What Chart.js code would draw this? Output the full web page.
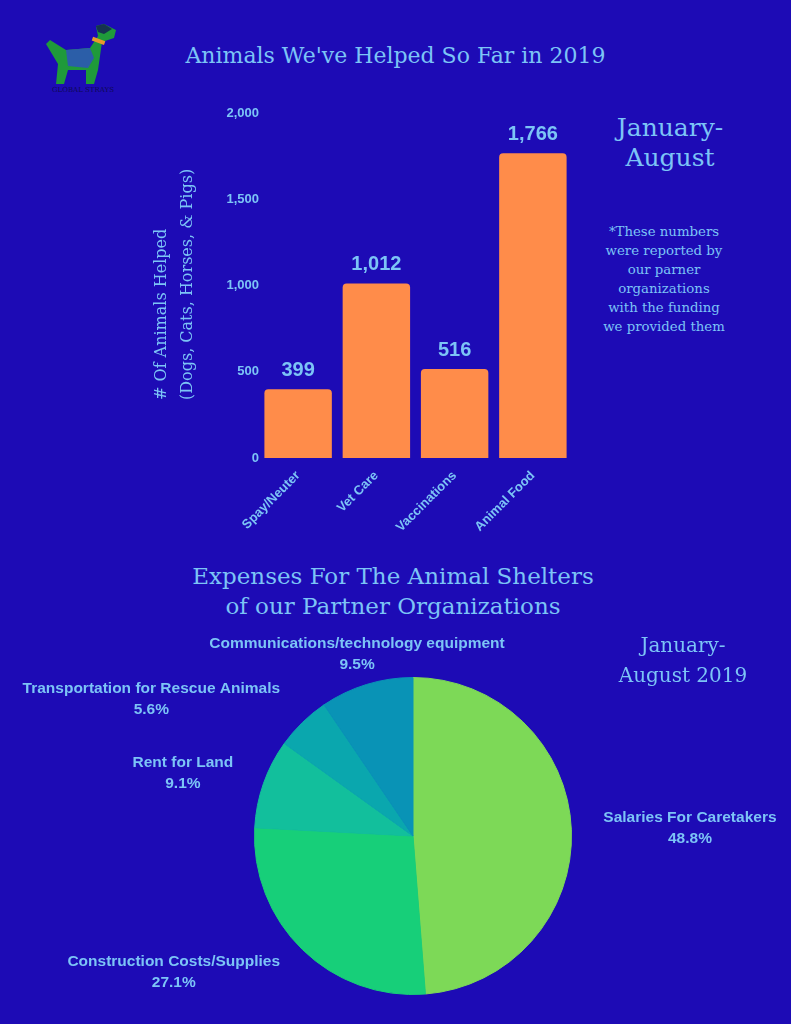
<!DOCTYPE html>
<html>
<head>
<meta charset="utf-8">
<script src="https://cdn.jsdelivr.net/npm/chart.js@4.4.1/dist/chart.umd.min.js"></script>
<style>
  html, body { margin: 0; padding: 0; }
  body {
    width: 791px; height: 1024px; position: relative; overflow: hidden;
    background: #1d0bb5; color: #7cc4f6;
    font-family: "DejaVu Serif", serif;
  }
  .txt { position: absolute; text-align: center; white-space: nowrap; }
  #title { left: 0; width: 791px; top: 43px; font-size: 22px; }
  #period1 { left: 590px; width: 160px; top: 113px; font-size: 25px; line-height: 30px; }
  #note { left: 584px; width: 160px; top: 222px; font-size: 13.3px; line-height: 19px; }
  #title2 { left: 93px; width: 600px; top: 561px; font-size: 23px; line-height: 30px; }
  #period2 { left: 603px; width: 160px; top: 630px; font-size: 20px; line-height: 30px; z-index: 2; }
  #barWrap { position: absolute; left: 130px; top: 95px; width: 460px; height: 450px; }
  #pieWrap { position: absolute; left: 0; top: 626px; width: 791px; height: 398px; }
  #logo { position: absolute; left: 38px; top: 20px; }
</style>
</head>
<body>
<svg id="logo" width="90" height="78" viewBox="0 0 90 78">
  <polygon points="12,20 28,30 52,28 60,16 58,6 66,4 78,10 76,18 64,22 60,50 56,64 48,64 48,50 30,50 26,64 18,64 20,44 14,34 8,24" fill="#1f9a3a"/>
  <polygon points="28,30 52,28 56,38 50,48 30,46" fill="#2b5ea8"/>
  <polygon points="58,6 66,4 74,9 66,14 60,12" fill="#16324f"/>
  <rect x="54" y="19" width="13" height="4" fill="#e89a2a" transform="rotate(20 61 21)"/>
  <text x="45" y="72" font-family="DejaVu Serif" font-size="7" fill="#0f0a55" text-anchor="middle">GLOBAL STRAYS</text>
</svg>
<div id="title" class="txt">Animals We've Helped So Far in 2019</div>
<div id="period1" class="txt">January-<br>August</div>
<div id="note" class="txt">*These numbers<br>were reported by<br>our parner<br>organizations<br>with the funding<br>we provided them</div>
<div id="barWrap"><canvas id="bar_chart"></canvas></div>
<div id="title2" class="txt">Expenses For The Animal Shelters<br>of our Partner Organizations</div>
<div id="period2" class="txt">January-<br>August 2019</div>
<div id="pieWrap"><canvas id="pie_chart"></canvas></div>

<script>
'use strict';

// bar chart data
const helpCategories = ['Spay/Neuter', 'Vet Care', 'Vaccinations', 'Animal Food'];
const animalsHelped = [399, 1012, 516, 1766];
const helpTicks = [0, 500, 1000, 1500, 2000];
const helpAxisTitle = ['# Of Animals Helped', '(Dogs, Cats, Horses, & Pigs)'];

// pie chart data
const expenseCategories = [
    'Salaries For Caretakers',
    'Construction Costs/Supplies',
    'Rent for Land',
    'Transportation for Rescue Animals',
    'Communications/technology equipment'
];
const expenseShares = [48.8, 27.1, 9.1, 5.6, 9.5];
const expenseColors = ['#7dd957', '#17cf79', '#12bf9c', '#0aa7ae', '#0993b6'];

const TEXT = '#7cc4f6';
const SANS = '"Liberation Sans", Arial, sans-serif';
const SERIF = '"DejaVu Serif", serif';

const barValueLabels = {
    id: 'barValueLabels',
    afterDatasetsDraw(chart) {
        const ctx = chart.ctx;
        const meta = chart.getDatasetMeta(0);
        ctx.save();
        ctx.fillStyle = TEXT;
        ctx.font = 'bold 20px ' + SANS;
        ctx.textAlign = 'center';
        ctx.textBaseline = 'bottom';
        meta.data.forEach((bar, i) => {
            const v = chart.data.datasets[0].data[i];
            ctx.fillText(v.toLocaleString('en-US'), bar.x, bar.y - 9);
        });
        ctx.restore();
    }
};

// two line axis title, both lines starting at the same height (left aligned once rotated)
const yAxisTitle = {
    id: 'yAxisTitle',
    afterDraw(chart) {
        const ctx = chart.ctx;
        const y = chart.scales.y;
        ctx.save();
        ctx.fillStyle = TEXT;
        ctx.font = '16px ' + SERIF;
        ctx.textAlign = 'left';
        ctx.textBaseline = 'middle';
        ctx.translate(y.left + 32, y.bottom - 58);
        ctx.rotate(-Math.PI / 2);
        helpAxisTitle.forEach((line, i) => ctx.fillText(line, 0, i * 26));
        ctx.restore();
    }
};

function make_bar_chart() {
    const ctx = document.getElementById('bar_chart').getContext('2d');
    new Chart(ctx, {
        type: 'bar',
        data: {
            labels: helpCategories,
            datasets: [{
                data: animalsHelped,
                backgroundColor: '#ff8c4a',
                borderRadius: 4,
                borderSkipped: 'bottom',
                barPercentage: 0.862,
                categoryPercentage: 1
            }]
        },
        options: {
            responsive: true,
            maintainAspectRatio: false,
            animation: false,
            layout: { padding: { left: 0, right: 18, top: 18, bottom: 0 } },
            plugins: { legend: { display: false }, tooltip: { enabled: false } },
            scales: {
                x: {
                    grid: { display: false },
                    border: { display: false },
                    afterFit: (axis) => { axis.height = 87; },
                    ticks: {
                        color: TEXT,
                        font: { family: SANS, size: 13, weight: 'bold' },
                        minRotation: 45,
                        maxRotation: 45,
                        padding: 2
                    }
                },
                y: {
                    min: helpTicks[0],
                    max: helpTicks[helpTicks.length - 1],
                    grid: { display: false, drawTicks: false },
                    border: { display: false },
                    afterFit: (axis) => { axis.width = 129; },
                    afterBuildTicks: (axis) => { axis.ticks = helpTicks.map(v => ({ value: v })); },
                    ticks: {
                        color: TEXT,
                        font: { family: SANS, size: 13, weight: 'bold' },
                        padding: 0,
                        callback: (v) => v.toLocaleString('en-US')
                    }
                }
            }
        },
        plugins: [barValueLabels, yAxisTitle]
    });
}

const pieOutsideLabels = {
    id: 'pieOutsideLabels',
    afterDatasetsDraw(chart) {
        const ctx = chart.ctx;
        const meta = chart.getDatasetMeta(0);
        const values = chart.data.datasets[0].data;
        const lineH = 21;
        const gap = 32;
        ctx.save();
        ctx.font = 'bold 15.5px ' + SANS;
        const boxes = meta.data.map((arc, i) => {
            const p = arc.getProps(['x', 'y', 'startAngle', 'endAngle', 'outerRadius'], true);
            const mid = (p.startAngle + p.endAngle) / 2;
            const R = p.outerRadius + gap;
            const lines = [chart.data.labels[i], values[i].toFixed(1) + '%'];
            const w = Math.max(...lines.map(t => ctx.measureText(t).width));
            const cos = Math.cos(mid);
            const box = { lines, w, h: lineH * 2, cx: p.x, cy: p.y, R, cos, side: 0 };
            box.side = Math.abs(cos) < 0.4 ? 0 : (cos > 0 ? 1 : -1);
            box.ay = p.y + Math.sin(mid) * R;
            box.ax = p.x + cos * R;
            return box;
        });
        const place = (b) => {
            if (b.side === 0) { b.x0 = b.ax - b.w / 2; }
            else if (b.side > 0) { b.x0 = b.ax; }
            else { b.x0 = b.ax - b.w; }
            b.y0 = b.ay - b.h / 2;
        };
        boxes.forEach(place);
        // push overlapping labels downward, keeping them on the outer ring
        const order = boxes.slice().sort((a, b) => a.ay - b.ay);
        const placed = [];
        order.forEach((b) => {
            placed.forEach((o) => {
                const overlapX = b.x0 < o.x0 + o.w && o.x0 < b.x0 + b.w;
                const overlapY = b.y0 < o.y0 + o.h && o.y0 < b.y0 + b.h;
                if (overlapX && overlapY) {
                    b.ay = o.y0 + o.h + 4 + b.h / 2;
                    const dy = b.ay - b.cy;
                    const dx = Math.sqrt(Math.max(0, b.R * b.R - dy * dy));
                    b.ax = b.cx + (b.cos < 0 ? -dx : dx);
                    place(b);
                }
            });
            placed.push(b);
        });
        ctx.fillStyle = TEXT;
        ctx.textAlign = 'center';
        ctx.textBaseline = 'middle';
        boxes.forEach((b) => {
            const x = b.x0 + b.w / 2;
            ctx.fillText(b.lines[0], x, b.y0 + lineH / 2);
            ctx.fillText(b.lines[1], x, b.y0 + lineH * 1.5);
        });
        ctx.restore();
    }
};

function make_pie_chart() {
    const ctx = document.getElementById('pie_chart').getContext('2d');
    new Chart(ctx, {
        type: 'pie',
        data: {
            labels: expenseCategories,
            datasets: [{
                data: expenseShares,
                backgroundColor: expenseColors,
                borderColor: expenseColors,
                borderWidth: 1
            }]
        },
        options: {
            responsive: true,
            maintainAspectRatio: false,
            animation: false,
            layout: { padding: { left: 35, right: 0, top: 51, bottom: 29 } },
            plugins: { legend: { display: false }, tooltip: { enabled: false } }
        },
        plugins: [pieOutsideLabels]
    });
}

document.addEventListener('DOMContentLoaded', function(_event) {
    make_bar_chart();
    make_pie_chart();
});
</script>
</body>
</html>
